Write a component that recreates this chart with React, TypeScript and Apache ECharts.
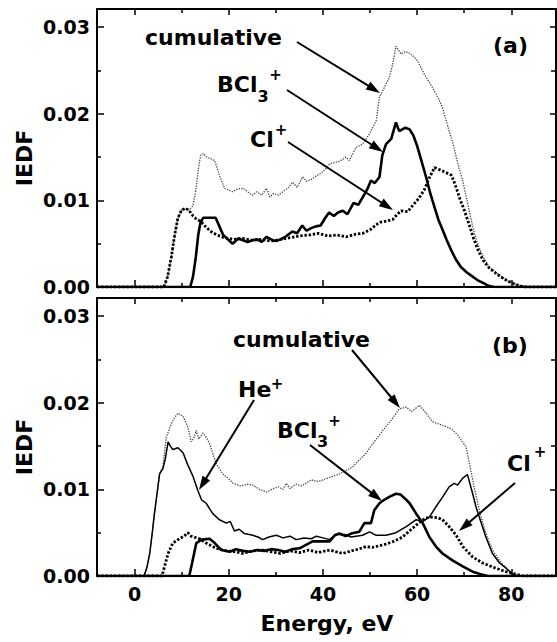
import React, { useEffect, useRef } from "react";
import * as echarts from "echarts";

// ---------- data: [energy (eV), IEDF] ----------
const cumA: number[][] = [
  [-8, 0], [6.2, 0], [7, 0.0012], [7.8, 0.0035], [8.5, 0.006], [9.2, 0.008], [10, 0.0089], [10.8, 0.0091],
  [11.6, 0.0089], [12.4, 0.0094], [13, 0.0112], [13.5, 0.0135], [14, 0.0152], [14.6, 0.0154], [15.3, 0.015],
  [16.2, 0.0148], [17, 0.0146], [17.6, 0.0136], [18.2, 0.0126], [19.1, 0.0114], [20, 0.0112], [20.8, 0.011],
  [21.8, 0.0113], [23, 0.0114], [24, 0.011], [25, 0.0106], [26, 0.011], [27, 0.0106], [28, 0.0114],
  [28.7, 0.0104], [29.5, 0.0108], [30.5, 0.0106], [31.5, 0.011], [32.5, 0.0114], [33.6, 0.0121],
  [34.5, 0.0115], [35.7, 0.0127], [36.5, 0.0122], [37.5, 0.0124], [38.5, 0.0128], [39.5, 0.0131],
  [40.5, 0.0136], [41.4, 0.0142], [42.5, 0.0144], [43.5, 0.0145], [44.9, 0.015], [45.6, 0.0146],
  [47, 0.0161], [48.4, 0.0165], [49.9, 0.0177], [51.3, 0.0192], [52, 0.0219], [53, 0.023], [54.1, 0.0242],
  [54.8, 0.0257], [55.5, 0.0278], [56.6, 0.0269], [57.5, 0.0272], [58.4, 0.027], [59.3, 0.0266],
  [60.1, 0.0261], [61.5, 0.0246], [63.3, 0.023], [64.5, 0.0218], [65.4, 0.0207], [66.2, 0.0192],
  [66.8, 0.018], [67.6, 0.0166], [68.3, 0.015], [69, 0.0136], [69.7, 0.0122], [70.4, 0.0105],
  [71.1, 0.0087], [71.8, 0.007], [72.5, 0.0056], [73.2, 0.0045], [74.2, 0.0033], [75.3, 0.0023],
  [76.7, 0.0017], [78.2, 0.0011], [79.5, 0.0006], [81, 0.0003], [83, 0.0001], [84.5, 0], [89.5, 0],
];
const bcl3A: number[][] = [
  [-8, 0], [11.8, 0], [12.4, 0.0012], [13, 0.0035], [13.5, 0.006], [14, 0.0075], [14.6, 0.008], [17.2, 0.008],
  [18, 0.007], [18.8, 0.006], [19.8, 0.0055], [20.8, 0.005], [22, 0.0056], [23, 0.0054], [24, 0.0052],
  [25, 0.0054], [26, 0.0055], [27, 0.0052], [28, 0.0058], [29, 0.0055], [30, 0.0053], [31, 0.0055],
  [32, 0.0058], [33.5, 0.0064], [34.5, 0.0062], [35.6, 0.0071], [36.5, 0.0065], [37.5, 0.0068],
  [38.5, 0.007], [39.5, 0.0071], [40.5, 0.008], [41.3, 0.0086], [42.3, 0.0082], [43.2, 0.0086],
  [44.2, 0.0088], [45.2, 0.0084], [46.5, 0.0097], [47.5, 0.0095], [48.8, 0.0107], [49.5, 0.0114],
  [50.2, 0.0123], [51, 0.012], [52, 0.0127], [52.6, 0.0152], [53.4, 0.0165], [54.5, 0.0171], [55.5, 0.019],
  [56.2, 0.018], [57.5, 0.0184], [58.4, 0.0182], [59.2, 0.0175], [60, 0.0163], [60.8, 0.0148],
  [61.9, 0.0127], [62.8, 0.0108], [63.7, 0.0092], [64.5, 0.0078], [65.4, 0.0066], [66.3, 0.0054],
  [67.2, 0.0043], [68.2, 0.0032], [69.3, 0.0023], [70.5, 0.0017], [71.8, 0.0012], [72.8, 0.0008],
  [73.9, 0.0005], [75.3, 0.0001], [76.5, 0], [89.5, 0],
];
const clA: number[][] = [
  [-8, 0], [6.2, 0], [7, 0.0012], [7.8, 0.0035], [8.5, 0.006], [9.2, 0.008], [10, 0.0089], [10.8, 0.0091],
  [11.6, 0.0088], [12.4, 0.0082], [13.2, 0.0078], [14, 0.0076], [15, 0.007], [16.2, 0.0064], [17.5, 0.006],
  [19, 0.0057], [21, 0.0055], [23, 0.0056], [25, 0.0054], [27, 0.0055], [29, 0.0053], [31, 0.0055],
  [33, 0.0057], [35, 0.0059], [37, 0.006], [39, 0.0062], [41, 0.0059], [43, 0.006], [45, 0.0058],
  [47, 0.0061], [48.5, 0.0062], [50, 0.0066], [51.3, 0.0072], [52.3, 0.0075], [53.5, 0.0076],
  [54.8, 0.0078], [55.8, 0.0084], [56.6, 0.0088], [58, 0.0087], [59.2, 0.0095], [60.3, 0.0102],
  [61.5, 0.0112], [62.5, 0.0125], [63.7, 0.0138], [64.5, 0.0136], [65.8, 0.0133], [67.3, 0.0129],
  [68.3, 0.0115], [69, 0.0103], [70, 0.0089], [71, 0.0073], [72, 0.0056], [73, 0.0042], [74, 0.0031],
  [75.3, 0.0022], [76.7, 0.0016], [78, 0.0011], [79.2, 0.0007], [80.5, 0.0004], [82, 0.0001], [83, 0],
  [89.5, 0],
];
const cumB: number[][] = [
  [-8, 0], [2, 0], [2.6, 0.001], [3.2, 0.0026], [3.7, 0.0048], [4.2, 0.0072], [4.8, 0.0097], [5.3, 0.0118],
  [6, 0.0126], [6.7, 0.016], [7.8, 0.0176], [8.5, 0.0183], [9.2, 0.0188], [10.3, 0.0184], [11.3, 0.0172],
  [12, 0.0155], [12.6, 0.016], [13.1, 0.0168], [13.6, 0.0158], [14.5, 0.0165], [15.2, 0.016],
  [15.9, 0.0153], [17.3, 0.013], [18.7, 0.0118], [20, 0.0112], [20.9, 0.0107], [22.5, 0.0104], [24, 0.0106],
  [25.1, 0.0105], [26.5, 0.01], [28, 0.0097], [29.5, 0.0101], [30.5, 0.0103], [31.5, 0.01], [32.2, 0.0107],
  [33, 0.0101], [34.3, 0.0106], [35.5, 0.0104], [37.5, 0.0111], [39, 0.0109], [40.5, 0.0112],
  [42.1, 0.0115], [43.5, 0.0118], [45, 0.0122], [46.3, 0.0126], [47.7, 0.0134], [49.2, 0.0142],
  [50.6, 0.0153], [52.7, 0.0168], [54.5, 0.018], [56.2, 0.0193], [57.7, 0.0195], [58.8, 0.019],
  [60.5, 0.0197], [61.9, 0.0188], [63.3, 0.0178], [65.4, 0.0174], [67.2, 0.017], [68.6, 0.0163],
  [70.4, 0.0149], [71.1, 0.013], [72.1, 0.0103], [73.2, 0.0076], [74.6, 0.0049], [76, 0.003],
  [77.5, 0.0018], [78.9, 0.0009], [80.5, 0.0002], [82, 0], [89.5, 0],
];
const heB: number[][] = [
  [-8, 0], [2, 0], [2.6, 0.001], [3.2, 0.0026], [3.7, 0.0048], [4.2, 0.0072], [4.8, 0.0097], [5.3, 0.0118],
  [6, 0.0124], [6.5, 0.0135], [7.1, 0.0155], [7.6, 0.015], [8.1, 0.0146], [9.2, 0.0148], [10.3, 0.0142],
  [11.3, 0.0128], [12.4, 0.0115], [13.4, 0.0099], [14.2, 0.0088], [15.2, 0.0084], [16, 0.0077],
  [16.6, 0.0072], [18, 0.0065], [19.5, 0.0061], [20.3, 0.0063], [21.2, 0.0052], [22.2, 0.0054],
  [23.3, 0.0049], [25.1, 0.0047], [26.2, 0.0045], [27.2, 0.0042], [28.5, 0.0045], [30.1, 0.0047],
  [31.5, 0.0044], [33, 0.0046], [34.3, 0.0042], [36, 0.0044], [37.5, 0.0043], [38.6, 0.0046], [40, 0.0044],
  [41.4, 0.0042], [42.8, 0.0048], [44.5, 0.0048], [46, 0.0045], [48.4, 0.0047], [49.9, 0.0051],
  [51.3, 0.0047], [53.4, 0.0047], [55.5, 0.005], [57.7, 0.0057], [59.8, 0.0065], [61.2, 0.0063],
  [62.6, 0.0068], [64, 0.008], [65.4, 0.0091], [66.8, 0.0103], [67.9, 0.0107], [68.6, 0.0105],
  [69.7, 0.0113], [70.7, 0.0117], [71.8, 0.0095], [72.5, 0.008], [73.2, 0.0068], [74.6, 0.0045],
  [76, 0.0026], [77.5, 0.0015], [78.9, 0.0009], [80.3, 0.0002], [81, 0], [89.5, 0],
];
const bcl3B: number[][] = [
  [-8, 0], [11.6, 0], [12.2, 0.0015], [13.1, 0.0038], [14.2, 0.0042], [15.9, 0.0043], [17, 0.0038],
  [18.4, 0.003], [20.2, 0.0028], [21.5, 0.0031], [23, 0.0029], [24.5, 0.0028], [26, 0.003], [27.5, 0.0029],
  [29, 0.0031], [30.5, 0.003], [32, 0.0028], [33.5, 0.0031], [35, 0.0032], [36.4, 0.0036], [37.8, 0.004],
  [39.5, 0.004], [41.4, 0.004], [42.5, 0.0047], [43.5, 0.0049], [44.8, 0.0046], [46, 0.0049],
  [47.7, 0.0051], [48.8, 0.0061], [50.2, 0.0061], [50.9, 0.0076], [52, 0.0084], [53, 0.0088],
  [54.3, 0.0092], [55.5, 0.0095], [56.5, 0.0094], [57.5, 0.0089], [58.4, 0.0084], [59.8, 0.0072],
  [61.2, 0.0061], [62.6, 0.0045], [64, 0.0034], [65.4, 0.0026], [67.5, 0.0018], [69.7, 0.0011],
  [71.8, 0.0005], [73.5, 0.0002], [75, 0], [89.5, 0],
];
const clB: number[][] = [
  [-8, 0], [5.8, 0], [6.4, 0.0012], [7.1, 0.0026], [8.1, 0.0038], [9.5, 0.0043], [10.5, 0.0046],
  [11.3, 0.005], [12, 0.0046], [13.8, 0.0043], [15.2, 0.0038], [17.3, 0.0032], [19.5, 0.0029],
  [21.5, 0.0028], [23, 0.0026], [25, 0.0029], [27, 0.003], [29, 0.0028], [31, 0.0026], [33, 0.0029],
  [35, 0.0027], [37, 0.003], [39, 0.0027], [41.4, 0.003], [44.2, 0.0026], [46, 0.0029], [47.5, 0.0031],
  [49.2, 0.0034], [50.5, 0.0033], [52, 0.0035], [53.5, 0.0037], [55, 0.004], [56.9, 0.0045], [59, 0.0055],
  [60.5, 0.0062], [61.9, 0.0067], [63.3, 0.0068], [64.5, 0.0067], [65.4, 0.0065], [66.8, 0.0057],
  [68.3, 0.0047], [69.7, 0.0034], [71.8, 0.0022], [73.9, 0.0015], [76.7, 0.0009], [78.9, 0.0005],
  [81, 0.0002], [82.5, 0], [89.5, 0],
];

const xMajorTicks = [0, 20, 40, 60, 80];
const xMinorTicks = [10, 30, 50, 70];
const yMajorTicks = [0, 0.01, 0.02, 0.03];
const yMinorTicks = [0.005, 0.015, 0.025];

const FONT = "'DejaVu Sans', sans-serif";
const X_MIN = -8;
const X_MAX = 89.5;
const Y_MAX = 0.0321;

function buildOption() {
  const grids = [
    { left: 97, top: 9, width: 459, height: 278 },
    { left: 97, top: 298, width: 459, height: 278 },
  ];
  const xAxes: any[] = [];
  const yAxes: any[] = [];
  const lineStyle = { color: "#000", width: 2 };
  const tickStyle = { color: "#000", width: 1.5 };
  grids.forEach((_, g) => {
    const xBase = {
      gridIndex: g, type: "value", min: X_MIN, max: X_MAX,
      splitLine: { show: false },
    };
    xAxes.push({
      ...xBase, position: "bottom",
      axisLine: { show: true, onZero: false, lineStyle },
      axisTick: { show: true, inside: true, length: 7, customValues: xMajorTicks, lineStyle: tickStyle },
      axisLabel: {
        show: g === 1, customValues: xMajorTicks, margin: 8, color: "#000",
        fontSize: 19, fontWeight: "bold", fontFamily: FONT,
      },
    });
    xAxes.push({
      ...xBase, position: "bottom",
      axisLine: { show: false, onZero: false },
      axisTick: { show: true, inside: true, length: 4, customValues: xMinorTicks, lineStyle: tickStyle },
      axisLabel: { show: false },
    });
    xAxes.push({
      ...xBase, position: "top",
      axisLine: { show: true, onZero: false, lineStyle },
      axisTick: { show: true, inside: true, length: 6, customValues: xMajorTicks, lineStyle: tickStyle },
      axisLabel: { show: false },
    });
    xAxes.push({
      ...xBase, position: "top",
      axisLine: { show: false, onZero: false },
      axisTick: { show: true, inside: true, length: 4, customValues: xMinorTicks, lineStyle: tickStyle },
      axisLabel: { show: false },
    });
    const yBase = { gridIndex: g, type: "value", min: 0, max: Y_MAX, splitLine: { show: false } };
    yAxes.push({
      ...yBase, position: "left",
      axisLine: { show: true, onZero: false, lineStyle },
      axisTick: { show: true, inside: true, length: 7, customValues: yMajorTicks, lineStyle: tickStyle },
      axisLabel: {
        show: true, customValues: yMajorTicks, margin: 7, color: "#000",
        fontSize: 19, fontWeight: "bold", fontFamily: FONT,
        formatter: (v: number) => v.toFixed(2),
      },
    });
    yAxes.push({
      ...yBase, position: "left",
      axisLine: { show: false, onZero: false },
      axisTick: { show: true, inside: true, length: 4, customValues: yMinorTicks, lineStyle: tickStyle },
      axisLabel: { show: false },
    });
    yAxes.push({
      ...yBase, position: "right",
      axisLine: { show: true, onZero: false, lineStyle },
      axisTick: { show: true, inside: true, length: 6, customValues: yMajorTicks, lineStyle: tickStyle },
      axisLabel: { show: false },
    });
    yAxes.push({
      ...yBase, position: "right",
      axisLine: { show: false, onZero: false },
      axisTick: { show: true, inside: true, length: 5, customValues: yMinorTicks, lineStyle: tickStyle },
      axisLabel: { show: false },
    });
  });

  const cumStyle = { color: "#444", width: 1.3, type: [1.3, 1.3] };
  const bclStyle = { color: "#000", width: 2.6, type: "solid" };
  const clStyle = { color: "#000", width: 2.8, type: [2.4, 1.8] };
  const heStyle = { color: "#000", width: 1.5, type: "solid" };
  const mk = (name: string, data: number[][], g: number, ls: any, z: number) => ({
    name, type: "line", data, xAxisIndex: g * 4, yAxisIndex: g * 4,
    showSymbol: false, symbol: "none", lineStyle: ls, z, silent: true,
  });
  const series = [
    mk("cumulative (a)", cumA, 0, cumStyle, 2),
    mk("Cl+ (a)", clA, 0, clStyle, 3),
    mk("BCl3+ (a)", bcl3A, 0, bclStyle, 4),
    mk("cumulative (b)", cumB, 1, cumStyle, 2),
    mk("Cl+ (b)", clB, 1, clStyle, 3),
    mk("He+ (b)", heB, 1, heStyle, 4),
    mk("BCl3+ (b)", bcl3B, 1, bclStyle, 4),
  ];

  const txt = (text: string, x: number, y: number, size: number, align = "left", rotation = 0) => ({
    type: "text", x, y, rotation, z: 100,
    style: {
      text, fill: "#000", fontSize: size, fontWeight: "bold", fontFamily: FONT,
      align, verticalAlign: "middle",
    },
  });
  const arrow = (x1: number, y1: number, x2: number, y2: number) => {
    const dx = x2 - x1, dy = y2 - y1;
    const L = Math.hypot(dx, dy);
    const ux = dx / L, uy = dy / L;
    const hl = 14, hw = 4.5;
    const bx = x2 - ux * hl, by = y2 - uy * hl;
    return [
      { type: "line", z: 100, shape: { x1, y1, x2: bx + ux * 2, y2: by + uy * 2 }, style: { stroke: "#000", lineWidth: 2 } },
      {
        type: "polygon", z: 100,
        shape: { points: [[x2, y2], [bx - uy * hw, by + ux * hw], [bx + uy * hw, by - ux * hw]] },
        style: { fill: "#000" },
      },
    ];
  };

  const graphic: any[] = [
    txt("IEDF", 24, 158, 22, "center", Math.PI / 2),
    txt("IEDF", 24, 447, 22, "center", Math.PI / 2),
    txt("Energy, eV", 327, 623, 22, "center"),
    // panel (a)
    txt("cumulative", 145, 37.4, 22),
    txt("BCl", 217, 84.4, 22),
    txt("3", 257.5, 96.5, 16),
    txt("+", 275.5, 75, 15, "center"),
    txt("Cl", 250, 139.4, 22),
    txt("+", 281, 130, 15, "center"),
    txt("(a)", 493, 45, 22),
    ...arrow(297, 42, 380, 93),
    ...arrow(287, 90, 383, 152),
    ...arrow(288, 142, 393, 210),
    // panel (b)
    txt("cumulative", 233, 339.4, 22),
    txt("(b)", 492, 345, 22),
    txt("He", 238, 389.4, 22),
    txt("+", 277, 384, 15, "center"),
    txt("BCl", 277, 430.4, 22),
    txt("3", 317, 441.5, 16),
    txt("+", 334.5, 421, 15, "center"),
    txt("Cl", 507, 463.4, 22),
    txt("+", 540, 452, 15, "center"),
    ...arrow(352, 350, 400, 408),
    ...arrow(254, 400, 199, 490),
    ...arrow(310, 445, 382, 501),
    ...arrow(515, 483, 459, 531),
  ];

  return {
    animation: false,
    backgroundColor: "#fff",
    grid: grids,
    xAxis: xAxes,
    yAxis: yAxes,
    series,
    graphic,
  };
}

export default function App() {
  const ref = useRef<HTMLDivElement>(null);
  useEffect(() => {
    document.body.style.margin = "0";
    if (!ref.current) return;
    const chart = echarts.init(ref.current, null, { renderer: "svg" });
    chart.setOption(buildOption() as any);
    return () => chart.dispose();
  }, []);
  return <div ref={ref} style={{ width: 557, height: 642 }} />;
}
